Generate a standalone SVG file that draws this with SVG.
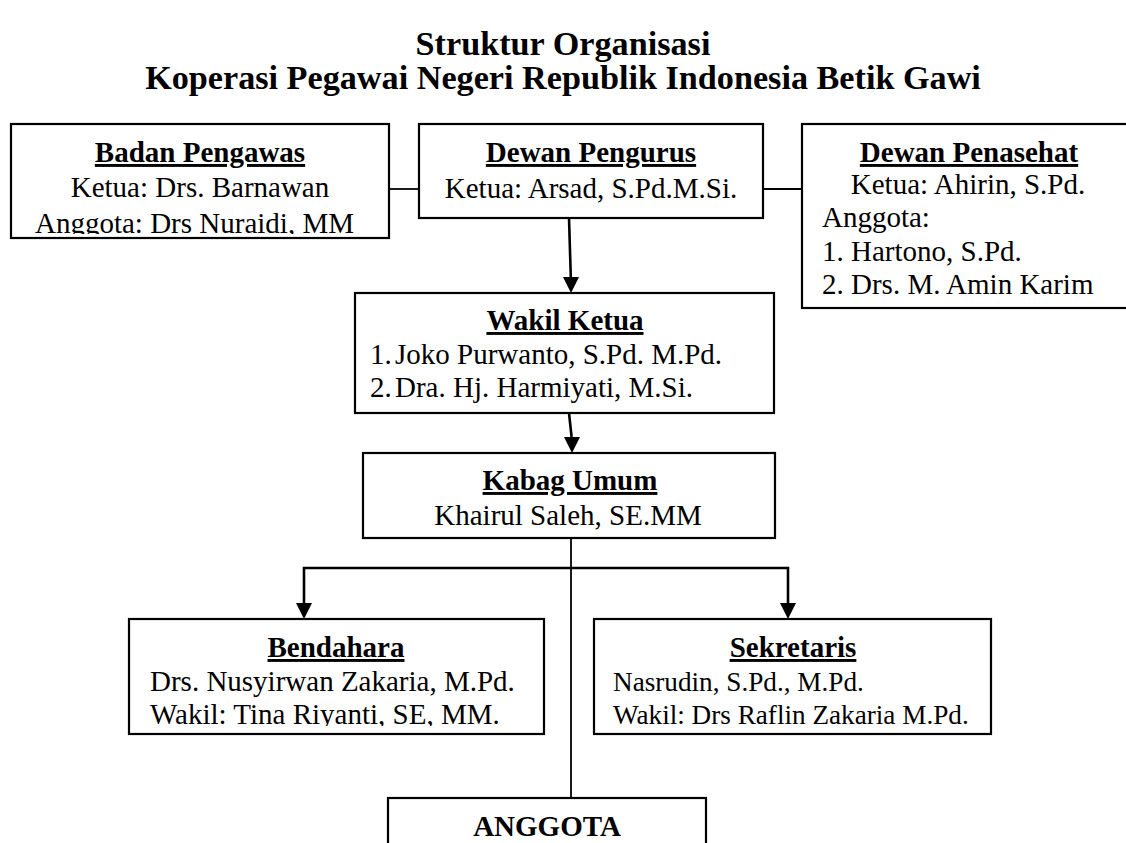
<svg xmlns="http://www.w3.org/2000/svg" width="1126" height="843" viewBox="0 0 1126 843">
  <style>
    text { font-family: "Liberation Serif", "Times New Roman", serif; fill: #000; }
    .title { font-size: 34.2px; font-weight: bold; text-anchor: middle; }
    .hd { font-size: 29px; font-weight: bold; text-anchor: middle; text-decoration: underline; }
    .t { font-size: 29px; }
    .s { font-size: 27.2px; }
    .c { text-anchor: middle; }
    .box { fill: #fff; stroke: #000; stroke-width: 2.2; }
    .thin { stroke: #000; stroke-width: 1.8; fill: none; }
    .thick { stroke: #000; stroke-width: 2.6; fill: none; }
  </style>
  <defs>
    <clipPath id="clipBP"><rect x="11" y="124" width="378" height="110"/></clipPath>
    <clipPath id="clipBD"><rect x="129" y="619" width="415" height="107"/></clipPath>
  </defs>
  <rect width="1126" height="843" fill="#fff"/>

  <g id="title">
    <text class="title" x="563" y="55">Struktur Organisasi</text>
    <text class="title" x="563" y="89">Koperasi Pegawai Negeri Republik Indonesia Betik Gawi</text>
  </g>

  <g id="connectors">
    <line class="thin" x1="389" y1="189" x2="419" y2="189"/>
    <line class="thin" x1="763" y1="189" x2="802" y2="189"/>
    <path d="M569,218 L570.8,277" class="thick"/>
    <path d="M563,277 L579,277 L571,293 Z" fill="#000"/>
    <path d="M569,413 L571.6,437" class="thick"/>
    <path d="M564,437 L580,437 L572,453 Z" fill="#000"/>
    <line class="thin" x1="571" y1="538" x2="571" y2="798"/>
    <path d="M304,603 L304,568 L788,568 L788,603" class="thick"/>
    <path d="M296,603 L312,603 L304,619 Z" fill="#000"/>
    <path d="M780,603 L796,603 L788,619 Z" fill="#000"/>
  </g>

  <g id="badan-pengawas">
    <rect class="box" x="11" y="124" width="378" height="114"/>
    <text class="hd" x="200" y="162">Badan Pengawas</text>
    <text class="t c" x="200" y="197">Ketua: Drs. Barnawan</text>
    <g clip-path="url(#clipBP)">
      <text class="t" x="35" y="233">Anggota: Drs Nuraidi, MM</text>
    </g>
  </g>

  <g id="dewan-pengurus">
    <rect class="box" x="419" y="124" width="344" height="94"/>
    <text class="hd" x="591" y="162">Dewan Pengurus</text>
    <text class="t c" x="591" y="198">Ketua: Arsad, S.Pd.M.Si.</text>
  </g>

  <g id="dewan-penasehat">
    <rect class="box" x="802" y="124" width="340" height="184"/>
    <text class="hd" x="969" y="162">Dewan Penasehat</text>
    <text class="t c" x="968" y="194">Ketua: Ahirin, S.Pd.</text>
    <text class="t" x="822" y="227">Anggota:</text>
    <text class="t" x="822" y="261">1. Hartono, S.Pd.</text>
    <text class="t" x="822" y="294">2. Drs. M. Amin Karim</text>
  </g>

  <g id="wakil-ketua">
    <rect class="box" x="355" y="293" width="419" height="120"/>
    <text class="hd" x="565" y="330">Wakil Ketua</text>
    <text class="t" x="370" y="364">1.</text>
    <text class="t" x="395" y="364">Joko Purwanto, S.Pd. M.Pd.</text>
    <text class="t" x="370" y="397">2.</text>
    <text class="t" x="395" y="397">Dra. Hj. Harmiyati, M.Si.</text>
  </g>

  <g id="kabag-umum">
    <rect class="box" x="363" y="453" width="412" height="85"/>
    <text class="hd" x="570" y="490">Kabag Umum</text>
    <text class="t c" x="568" y="525">Khairul Saleh, SE.MM</text>
  </g>

  <g id="bendahara">
    <rect class="box" x="129" y="619" width="415" height="115"/>
    <text class="hd" x="336" y="657">Bendahara</text>
    <text class="t" x="150" y="691">Drs. Nusyirwan Zakaria, M.Pd.</text>
    <g clip-path="url(#clipBD)">
      <text class="t" x="150" y="724">Wakil: Tina Riyanti, SE, MM.</text>
    </g>
  </g>

  <g id="sekretaris">
    <rect class="box" x="594" y="619" width="397" height="115"/>
    <text class="hd" x="793" y="657">Sekretaris</text>
    <text class="t s" x="613" y="691">Nasrudin, S.Pd., M.Pd.</text>
    <text class="t s" x="613" y="724">Wakil: Drs Raflin Zakaria M.Pd.</text>
  </g>

  <g id="anggota">
    <rect class="box" x="388" y="798" width="318" height="60"/>
    <text class="title" x="547" y="836" style="font-size:29px">ANGGOTA</text>
  </g>
</svg>
